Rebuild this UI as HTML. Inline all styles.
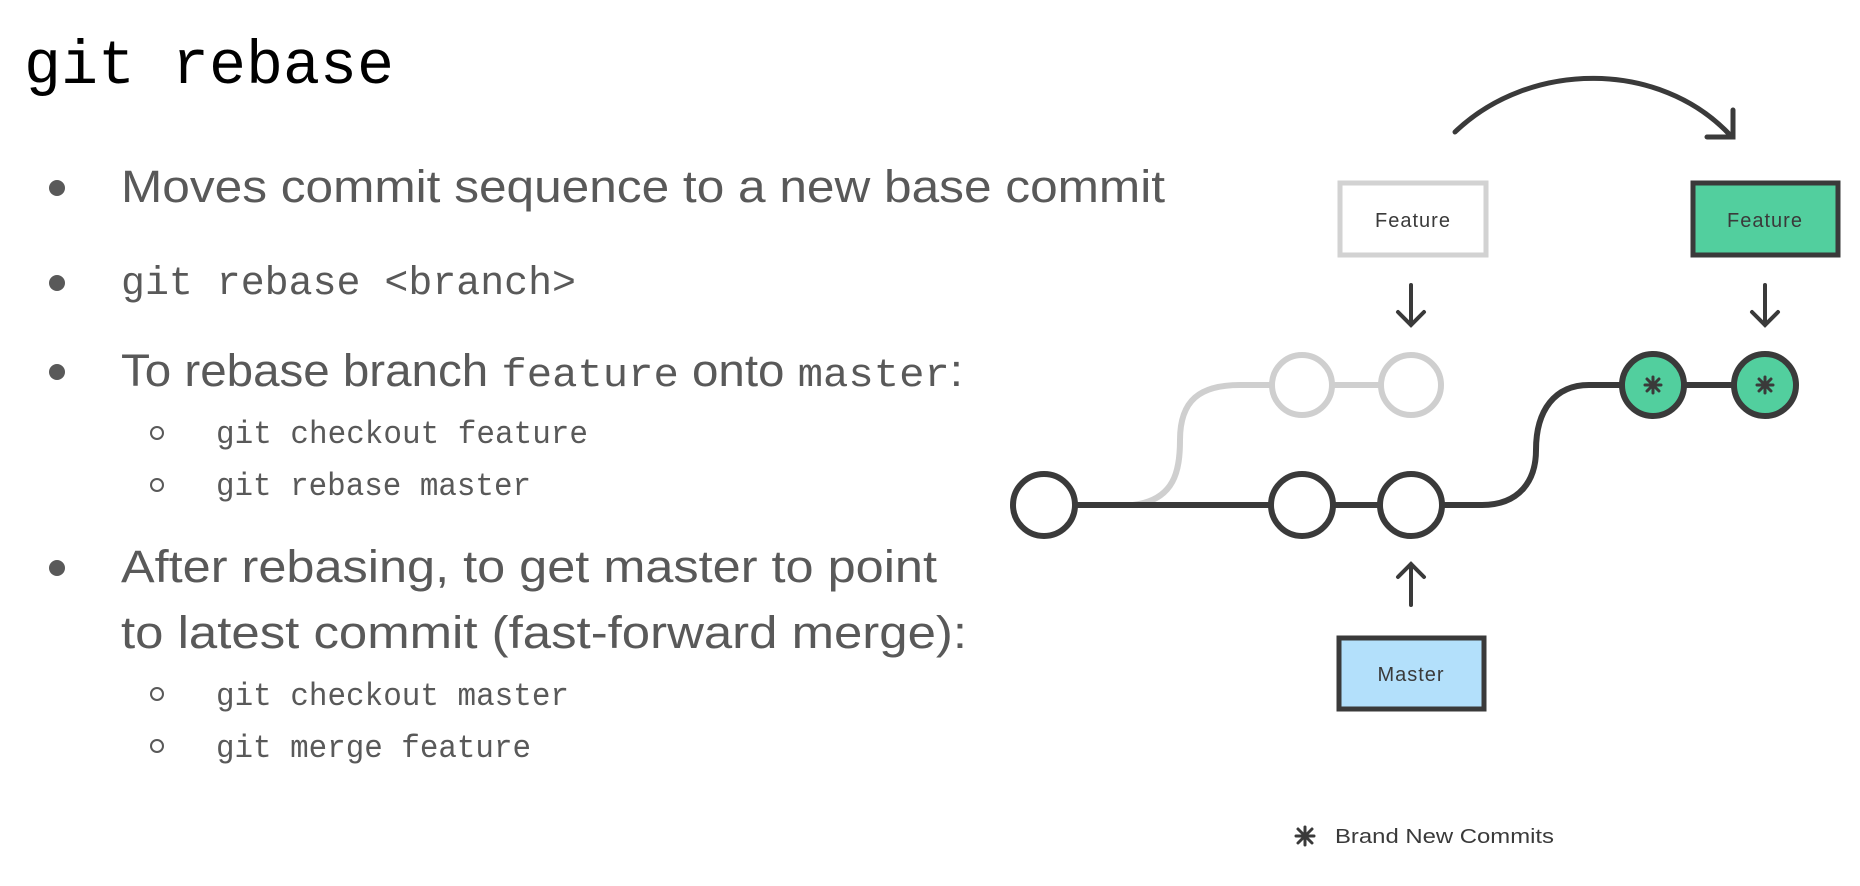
<!DOCTYPE html>
<html><head><meta charset="utf-8"><style>
html,body{margin:0;padding:0;background:#fff;}
svg{display:block;}
</style></head><body>
<svg width="1860" height="886" viewBox="0 0 1860 886" xmlns="http://www.w3.org/2000/svg">
<text x="24" y="83" font-family="Liberation Mono, monospace" font-size="62" fill="#000" textLength="370" lengthAdjust="spacingAndGlyphs">git rebase</text>
<g fill="#595959" font-family="Liberation Sans, sans-serif">
<circle cx="57" cy="188" r="8"/><circle cx="57" cy="283" r="8"/><circle cx="57" cy="372" r="8"/><circle cx="57" cy="568" r="8"/>
<text x="121" y="202" font-size="45" textLength="1044" lengthAdjust="spacingAndGlyphs">Moves commit sequence to a new base commit</text>
<text x="121" y="294" font-size="40" font-family="Liberation Mono, monospace" textLength="455" lengthAdjust="spacingAndGlyphs">git rebase &lt;branch&gt;</text>
<text x="121" y="386" font-size="45" textLength="842" lengthAdjust="spacingAndGlyphs">To rebase branch <tspan font-family="Liberation Mono, monospace" font-size="40">feature</tspan> onto <tspan font-family="Liberation Mono, monospace" font-size="40">master</tspan>:</text>
<text x="121" y="582" font-size="45" textLength="816" lengthAdjust="spacingAndGlyphs">After rebasing, to get master to point</text>
<text x="121" y="648" font-size="45" textLength="846" lengthAdjust="spacingAndGlyphs">to latest commit (fast-forward merge):</text>
<g font-family="Liberation Mono, monospace" font-size="32">
<text x="216" y="443" textLength="372" lengthAdjust="spacingAndGlyphs">git checkout feature</text>
<text x="216" y="495" textLength="315" lengthAdjust="spacingAndGlyphs">git rebase master</text>
<text x="216" y="705" textLength="353" lengthAdjust="spacingAndGlyphs">git checkout master</text>
<text x="216" y="757" textLength="315" lengthAdjust="spacingAndGlyphs">git merge feature</text>
</g>
<g fill="none" stroke="#595959" stroke-width="2">
<circle cx="157" cy="433" r="6"/><circle cx="157" cy="485" r="6"/><circle cx="157" cy="694" r="6"/><circle cx="157" cy="746" r="6"/>
</g>
</g>
<g fill="none" stroke-linecap="round">
<path d="M1133 505 C1175 500 1180 470 1180 440 C1180 400 1200 385 1240 385 L1411 385" stroke="#cfcfcf" stroke-width="6"/>
<circle cx="1302" cy="385" r="30" fill="#fff" stroke="#cfcfcf" stroke-width="6"/>
<circle cx="1411" cy="385" r="30" fill="#fff" stroke="#cfcfcf" stroke-width="6"/>
<path d="M1044 505 L1411 505 L1482 505 C1520 505 1536 480 1536 450 C1536 410 1555 385 1589 385 L1765 385" stroke="#3a3a3a" stroke-width="6"/>
<circle cx="1044" cy="505" r="31" fill="#fff" stroke="#3a3a3a" stroke-width="6"/>
<circle cx="1302" cy="505" r="31" fill="#fff" stroke="#3a3a3a" stroke-width="6"/>
<circle cx="1411" cy="505" r="31" fill="#fff" stroke="#3a3a3a" stroke-width="6"/>
<circle cx="1653" cy="385" r="31" fill="#52cf9e" stroke="#3a3a3a" stroke-width="6"/>
<circle cx="1765" cy="385" r="31" fill="#52cf9e" stroke="#3a3a3a" stroke-width="6"/>
<path d="M1455 132 C1530 60 1660 60 1730 135" stroke="#3a3a3a" stroke-width="5"/>
<path d="M1733 110 L1733 137 L1707 137" stroke="#3a3a3a" stroke-width="5"/>
<path d="M1411 285 L1411 325 M1398 312 L1411 325 L1424 312" stroke="#3a3a3a" stroke-width="4"/>
<path d="M1765 285 L1765 325 M1752 312 L1765 325 L1778 312" stroke="#3a3a3a" stroke-width="4"/>
<path d="M1411 605 L1411 564 M1398 577 L1411 564 L1424 577" stroke="#3a3a3a" stroke-width="4"/>
</g>
<rect x="1340" y="183" width="146" height="72" fill="#fff" stroke="#d2d2d2" stroke-width="5"/>
<rect x="1693" y="183" width="145" height="72" fill="#52cf9e" stroke="#3a3a3a" stroke-width="5"/>
<rect x="1339" y="638" width="145" height="71" fill="#b3e0fb" stroke="#3a3a3a" stroke-width="5"/>
<g font-family="Liberation Sans, sans-serif" font-size="20" fill="#3a3a3a" text-anchor="middle" letter-spacing="1">
<text x="1413" y="227">Feature</text>
<text x="1765" y="227">Feature</text>
<text x="1411" y="681">Master</text>
</g>
<g stroke="#3a3a3a" stroke-width="3" stroke-linecap="round">
<g transform="translate(1653,385)"><path d="M-8 0 L8 0 M0 -8 L0 8 M-6 -6 L6 6 M-6 6 L6 -6"/></g>
<g transform="translate(1765,385)"><path d="M-8 0 L8 0 M0 -8 L0 8 M-6 -6 L6 6 M-6 6 L6 -6"/></g>
<g transform="translate(1305,836)"><path d="M-9 0 L9 0 M0 -9 L0 9 M-7 -7 L7 7 M-7 7 L7 -7"/></g>
</g>
<text x="1335" y="843" font-family="Liberation Sans, sans-serif" font-size="20" fill="#3a3a3a" textLength="219" lengthAdjust="spacingAndGlyphs">Brand New Commits</text>
</svg>
</body></html>
